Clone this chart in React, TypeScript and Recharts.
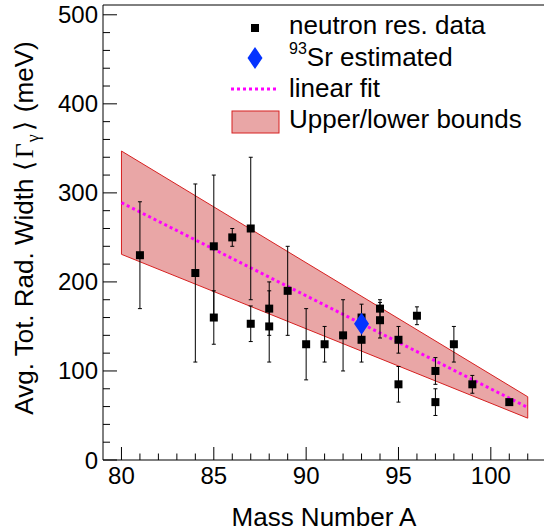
import React from "react";
import {
  ComposedChart,
  XAxis,
  YAxis,
  Area,
  Line,
  Scatter,
  ErrorBar,
  ReferenceLine,
} from "recharts";

// neutron resonance data
const massNumbers = [81, 84, 85, 85, 86, 87, 87, 88, 88, 89, 90, 91, 92, 93, 93, 94, 94, 95, 95, 96, 97, 97, 98, 99, 101];
const widths = [230, 210, 240, 160, 250, 260, 153, 170, 150, 190, 130, 130, 140, 135, 160, 170, 157, 135, 85, 162, 100, 65, 130, 85, 65];
const widthErrors = [60, 100, 80, 30, 10, 80, 20, 30, 40, 50, 40, 20, 40, 25, 15, 10, 20, 15, 20, 10, 15, 15, 20, 10, 3];

// 93Sr estimate
const srMass = [93];
const srWidth = [153];

// fit and bounds (end points)
const fitMass = [80, 102];
const fitWidth = [289, 59];
const upperBound = [347, 71];
const lowerBound = [231, 47];

const xTicks = [80, 81, 82, 83, 84, 85, 86, 87, 88, 89, 90, 91, 92, 93, 94, 95, 96, 97, 98, 99, 100, 101, 102];
const yTicks = [0, 20, 40, 60, 80, 100, 120, 140, 160, 180, 200, 220, 240, 260, 280, 300, 320, 340, 360, 380, 400, 420, 440, 460, 480, 500];
const X_MIN = 79;
const X_MAX = 102.88;
const Y_MAX = 511;

const FONT = "Liberation Sans, Arial, Helvetica, sans-serif";
const SERIF = "Liberation Serif, Times New Roman, serif";
const BAND_FILL = "#e9a6a6";
const BAND_LINE = "#d62020";
const MAGENTA = "#ff00ff";
const BLUE = "#0433ff";

const points = massNumbers.map((a, i) => ({ a, v: widths[i], err: widthErrors[i] }));
const srPoints = srMass.map((a, i) => ({ a, v: srWidth[i] }));
const fitData = fitMass.map((a, i) => ({ a, v: fitWidth[i] }));
const bandData = fitMass.map((a, i) => ({ a, range: [lowerBound[i], upperBound[i]] }));

const YTick = (props: any) => {
  const { x, y, payload } = props;
  const v = payload.value;
  const major = v % 100 === 0;
  const ax = x + 5;
  return (
    <g>
      <line x1={ax} x2={ax + (major ? 14 : 7)} y1={y} y2={y} stroke="#000" />
      {major && (
        <text x={x} y={y + 8.5} textAnchor="end" fontSize={24} fontFamily={FONT} fill="#000">
          {v}
        </text>
      )}
    </g>
  );
};

const XTick = (props: any) => {
  const { x, y, payload } = props;
  const v = payload.value;
  const major = v % 5 === 0;
  const ay = y - 7;
  return (
    <g>
      <line x1={x} x2={x} y1={ay} y2={ay - (major ? 13 : 6.5)} stroke="#000" />
      {major && (
        <text x={x} y={y + 16.5} textAnchor="middle" fontSize={24} fontFamily={FONT} fill="#000">
          {v}
        </text>
      )}
    </g>
  );
};

const Square = (props: any) => {
  const { cx, cy } = props;
  return <rect x={cx - 4} y={cy - 4} width={8} height={8} fill="#000" />;
};

const Diamond = (props: any) => {
  const { cx, cy } = props;
  return (
    <polygon
      points={`${cx},${cy - 11} ${cx + 7.5},${cy} ${cx},${cy + 11} ${cx - 7.5},${cy}`}
      fill={BLUE}
    />
  );
};

function Overlay() {
  return (
    <svg
      width={544}
      height={531}
      style={{ position: "absolute", left: 0, top: 0, pointerEvents: "none" }}
    >
      {/* legend */}
      <rect x={251} y={24} width={8} height={8} fill="#000" />
      <polygon points="255,47 262.5,58 255,69 247.5,58" fill={BLUE} />
      <line x1={231} x2={278} y1={89} y2={89} stroke={MAGENTA} strokeWidth={3} strokeDasharray="3 3" />
      <rect x={232} y={111} width={47} height={22} fill={BAND_FILL} stroke={BAND_LINE} />
      <g fontFamily={FONT} fontSize={26} fill="#000">
        <text x={289} y={34}>neutron res. data</text>
        <text x={289} y={66}>
          <tspan fontSize={16} dy={-12}>93</tspan>
          <tspan dy={12}>Sr estimated</tspan>
        </text>
        <text x={289} y={97}>linear fit</text>
        <text x={289} y={128}>Upper/lower bounds</text>
        <text x={324} y={526} textAnchor="middle">Mass Number A</text>
        <text x={0} y={0} transform="translate(33,228) rotate(-90)" textAnchor="middle">
          Avg. Tot. Rad. Width {"\u27E8"}
          <tspan fontFamily={SERIF} dx={3}>Γ</tspan>
          <tspan fontFamily={SERIF} fontSize={18} dy={6} dx={1}>γ</tspan>
          <tspan dy={-6} dx={3}>{"\u27E9"}</tspan>
          <tspan dx={2}> (meV)</tspan>
        </text>
      </g>
    </svg>
  );
}

export default function App() {
  return (
    <div style={{ position: "absolute", left: 0, top: 0, width: 544, height: 531, overflow: "hidden", background: "#fff" }}>
      <ComposedChart width={544} height={531} margin={{ top: 5, right: 0, bottom: 0, left: 0 }}>
        <XAxis
          type="number"
          dataKey="a"
          domain={[X_MIN, X_MAX]}
          ticks={xTicks}
          interval={0}
          height={71}
          tickSize={0}
          tickMargin={7}
          tickLine={false}
          tick={<XTick />}
          axisLine={{ stroke: "#000" }}
          allowDataOverflow
        />
        <YAxis
          type="number"
          domain={[0, Y_MAX]}
          ticks={yTicks}
          interval={0}
          width={103}
          tickSize={0}
          tickMargin={5}
          tickLine={false}
          tick={<YTick />}
          axisLine={{ stroke: "#000" }}
          allowDataOverflow
        />
        <Area
          data={bandData}
          dataKey="range"
          type="linear"
          fill={BAND_FILL}
          fillOpacity={1}
          stroke={BAND_LINE}
          strokeWidth={1}
          isAnimationActive={false}
        />
        <ReferenceLine
          segment={[{ x: fitMass[0], y: lowerBound[0] }, { x: fitMass[0], y: upperBound[0] }]}
          stroke={BAND_LINE}
        />
        <ReferenceLine
          segment={[{ x: fitMass[1], y: lowerBound[1] }, { x: fitMass[1], y: upperBound[1] }]}
          stroke={BAND_LINE}
        />
        <Line
          data={fitData}
          dataKey="v"
          type="linear"
          stroke={MAGENTA}
          strokeWidth={3}
          strokeDasharray="3 3"
          dot={false}
          isAnimationActive={false}
        />
        <Scatter data={points} dataKey="v" shape={<Square />} isAnimationActive={false}>
          <ErrorBar dataKey="err" direction="y" width={2} stroke="#000" strokeWidth={1} />
        </Scatter>
        <Scatter data={srPoints} dataKey="v" shape={<Diamond />} isAnimationActive={false} />
        <ReferenceLine y={Y_MAX} stroke="#000" />
      </ComposedChart>
      <Overlay />
    </div>
  );
}
